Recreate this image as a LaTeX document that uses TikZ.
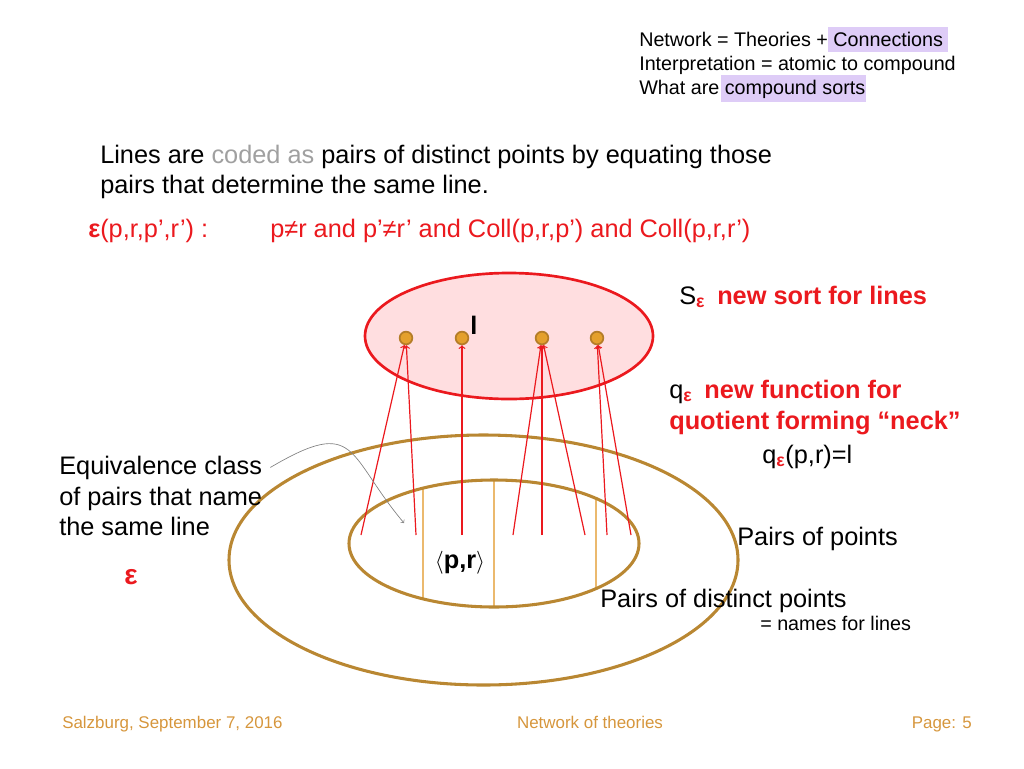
\documentclass[tikz,border=0pt]{standalone}
\usepackage{fontspec}
\setmainfont{Liberation Sans}
\definecolor{lineRed}{RGB}{235,25,30}
\definecolor{pinkFill}{RGB}{255,222,224}
\definecolor{ringBrown}{RGB}{185,135,50}
\definecolor{chordTan}{RGB}{235,185,110}
\definecolor{dotFill}{RGB}{228,160,45}
\definecolor{dotRim}{RGB}{180,125,40}
\definecolor{markLilac}{RGB}{222,204,247}
\definecolor{footOrange}{RGB}{214,150,60}
\definecolor{codedGray}{RGB}{160,160,160}
\newcommand{\eps}{\textbf{ε}}
\newcommand{\epsSub}{\textsubscript{\color{lineRed}\bfseries ε}}
\tikzset{
  body/.style={font=\fontsize{19}{23}\selectfont, inner sep=0pt},
  small/.style={font=\fontsize{14.8}{18}\selectfont, inner sep=0pt},
  foot/.style={font=\fontsize{12.7}{15}\selectfont, text=footOrange, inner sep=0pt},
  dot/.style={circle, fill=dotFill, draw=dotRim, line width=1.3pt, minimum size=9.5pt, inner sep=0pt},
  ring/.style={draw=ringBrown, line width=2.3pt},
  chord/.style={draw=chordTan, line width=1.1pt},
  link/.style={draw=lineRed, line width=0.9pt, ->},
  hint/.style={draw=gray, line width=0.5pt, ->}
}
\begin{document}
\begin{tikzpicture}[x=0.75pt, y=-0.75pt]
\useasboundingbox (0,0) rectangle (1024,768);
% header
\fill[markLilac] (828,27) rectangle (948,52);
\fill[markLilac] (721,75) rectangle (866,102);
\node[small, anchor=base west] (head1) at (639,46) {Network = Theories + Connections};
\node[small, anchor=base west] (head2) at (639,70) {Interpretation = atomic to compound};
\node[small, anchor=base west] (head3) at (639,94) {What are compound sorts};
% statement
\node[body, anchor=base west] (intro1) at (100,163) {Lines are \textcolor{codedGray}{coded as} pairs of distinct points by equating those};
\node[body, anchor=base west] (intro2) at (100,193) {pairs that determine the same line.};
\node[body, anchor=base west, text=lineRed] (epsDef) at (88,237) {\eps(p,r,p’,r’) :};
\node[body, anchor=base west, text=lineRed] (epsCond) at (270,237) {p≠r and p’≠r’ and Coll(p,r,p’) and Coll(p,r,r’)};
% sort of lines
\draw[draw=lineRed, fill=pinkFill, line width=2pt] (509,336) ellipse [x radius=144, y radius=63];
\node[body, font=\bfseries\fontsize{19}{23}\selectfont, anchor=base] (lineL) at (474,334) {l};
\foreach \n/\x in {1/406,2/462,3/542,4/597}
  \node[dot] (d\n) at (\x,338) {};
% pairs of points
\draw[chord] (423,488.1) -- (423,598.9);
\draw[chord] (494,480) -- (494,607);
\draw[chord] (596,498.4) -- (596,588.6);
\draw[ring] (483.5,560) ellipse [x radius=254.5, y radius=125];
\draw[ring] (494,543.5) ellipse [x radius=145, y radius=63.5];
\foreach \x/\d in {361/1,416/1,462/2,513/3,542/3,585/3,607/4,631/4} {
  \coordinate (p\x) at (\x,535);
  \draw[link] (p\x) -- (d\d);
}
\node[body, anchor=base] (pairPR) at (460,568) {$\langle$\textbf{p,r}$\rangle$};
% left labels
\node[body, anchor=base west] (equiv1) at (59,474) {Equivalence class};
\node[body, anchor=base west] (equiv2) at (59,505) {of pairs that name};
\node[body, anchor=base west] (equiv3) at (59,535) {the same line};
\node[body, text=lineRed, font=\bfseries\fontsize{21}{23}\selectfont, anchor=base] (epsRel) at (131,584) {ε};
\coordinate (classTip) at (404,523);
\draw[hint] ([xshift=6pt]equiv1.east) .. controls (358,416) and (346,454) .. (classTip);
% right labels
\node[body, anchor=base west] (sortS) at (679,304) {S\epsSub\hspace{9pt}\textcolor{lineRed}{\bfseries new sort for lines}};
\node[body, anchor=base west] (quotQ) at (669,398) {q\epsSub\hspace{9pt}\textcolor{lineRed}{\bfseries new function for}};
\node[body, anchor=base west, text=lineRed] (quotNeck) at (669,429) {\bfseries quotient forming “neck”};
\node[body, anchor=base west] (quotEq) at (762,463) {q\epsSub(p,r)=l};
\node[body, anchor=base west] (pairsAll) at (737,545) {Pairs of points};
\node[body, anchor=base west] (pairsDist) at (600,607) {Pairs of distinct points};
\node[small, anchor=base west] (namesFor) at (760,630) {= names for lines};
% footer
\node[foot, anchor=base west] (footL) at (62,728) {Salzburg, September 7, 2016};
\node[foot, anchor=base] (footC) at (590,728) {Network of theories};
\node[foot, anchor=base east] (footR) at (972,728) {Page: 5};
\end{tikzpicture}
\end{document}
